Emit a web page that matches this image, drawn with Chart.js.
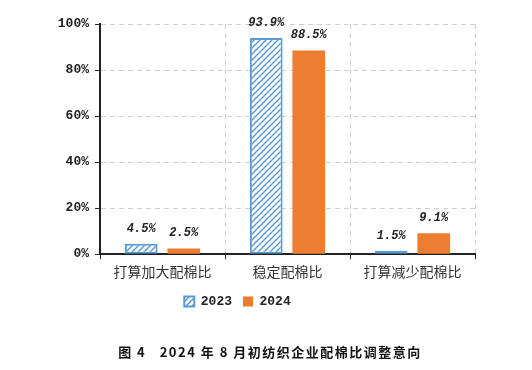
<!DOCTYPE html>
<html><head><meta charset="utf-8">
<script src="https://cdn.jsdelivr.net/npm/chart.js@4"></script>
<style>html,body{margin:0;padding:0;background:#fff;}#wrap{width:532px;height:370px;}</style>
</head><body><div id="wrap"><canvas id="c" width="532" height="370"></canvas></div>
<script>
const categories = ["打算加大配棉比", "稳定配棉比", "打算减少配棉比"];
const seriesNames = ["2023", "2024"];
const values2023 = [4.5, 93.9, 1.5];
const values2024 = [2.5, 88.5, 9.1];
const yTicks = [0, 20, 40, 60, 80, 100];
const caption = "图 4   2024 年 8 月初纺织企业配棉比调整意向";

const BLUE = "#5b9bd5", ORANGE = "#ed7d31";
function hatch(){
  const s = 6, p = document.createElement("canvas");
  p.width = s; p.height = s;
  const g = p.getContext("2d");
  g.fillStyle = "#fff"; g.fillRect(0,0,s,s);
  g.strokeStyle = BLUE; g.lineWidth = 1.5;
  g.beginPath();
  g.moveTo(-1, s+1); g.lineTo(s+1, -1);
  g.moveTo(-1, 1); g.lineTo(1, -1);
  g.moveTo(s-1, s+1); g.lineTo(s+1, s-1);
  g.stroke();
  return document.getElementById("c").getContext("2d").createPattern(p, "repeat");
}
const mono = "'Liberation Mono', 'DejaVu Sans Mono', monospace";

const labelPlugin = {
  id: "valueLabels",
  afterDatasetsDraw(chart){
    const ctx = chart.ctx;
    ctx.save();
    ctx.font = "italic bold 12px " + mono;
    ctx.fillStyle = "#222";
    ctx.textAlign = "center";
    ctx.textBaseline = "bottom";
    chart.data.datasets.forEach((ds, di) => {
      chart.getDatasetMeta(di).data.forEach((bar, i) => {
        ctx.fillText(ds.data[i].toFixed(1) + "%", bar.x, bar.y - 9);
      });
    });
    ctx.restore();
  },
  afterDraw(chart){
    const ctx = chart.ctx;
    ctx.save();
    ctx.font = "bold 13px 'Noto Sans CJK SC'";
    ctx.fillStyle = "#111";
    ctx.textAlign = "center";
    ctx.textBaseline = "middle";
    ctx.letterSpacing = "1.5px";
    ctx.fillText(caption, 270, 352);
    ctx.restore();
  }
};

new Chart(document.getElementById("c"), {
  type: "bar",
  data: {
    labels: categories,
    datasets: [
      { label: seriesNames[0], data: values2023, backgroundColor: hatch(), borderColor: BLUE, borderWidth: 2, borderSkipped: false },
      { label: seriesNames[1], data: values2024, backgroundColor: ORANGE, borderColor: ORANGE, borderWidth: 0 }
    ]
  },
  options: {
    responsive: false,
    animation: false,
    devicePixelRatio: 1,
    categoryPercentage: 0.68,
    barPercentage: 0.77,
    layout: { padding: { left: 0, right: 57, top: 24, bottom: 52 } },
    scales: {
      y: {
        min: 0, max: 100,
        afterBuildTicks(scale){ scale.ticks = yTicks.map(v => ({ value: v })); },
        afterFit(scale){ scale.width = 100; },
        ticks: { callback: v => v + "%", color: "#222", font: { family: mono, size: 13, weight: "bold" }, padding: 6 },
        grid: { color: "#cfcfcf", tickBorderDash: [], tickColor: "#222", tickLength: 5, drawTicks: true },
        border: { display: true, color: "#222", width: 2, dash: [5, 4] }
      },
      x: {
        ticks: { color: "#333", font: { family: "'Noto Sans CJK SC'", size: 14 }, padding: 4 },
        grid: { offset: true, color: "#cfcfcf", tickBorderDash: [], tickColor: "#222", tickLength: 5 },
        border: { display: true, color: "#222", width: 2, dash: [5, 4] }
      }
    },
    plugins: {
      legend: {
        position: "bottom",
        labels: { boxWidth: 10, boxHeight: 10, color: "#222", font: { family: mono, size: 13, weight: "bold" }, padding: 11 }
      },
      title: { display: false },
      tooltip: { enabled: false }
    }
  },
  plugins: [labelPlugin]
});
</script></body></html>
